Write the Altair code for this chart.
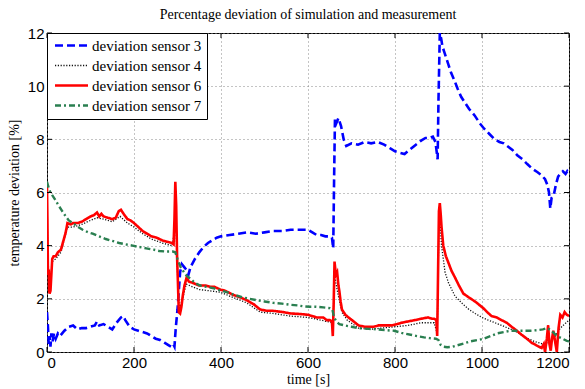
import altair as alt
import pandas as pd

series_names = ["deviation sensor 3", "deviation sensor 4", "deviation sensor 6", "deviation sensor 7"]

t_s3 = [0,2,4,6,8,10,13,16,20,25,30,40,50,60,70,80,90,100,110,115,120,130,140,150,160,170,175,180,190,200,
        210,220,230,240,250,260,270,280,285,290,293,296,300,303,306,310,315,320,325,330,340,350,360,370,380,390,
        400,420,440,460,480,500,520,540,560,580,600,610,620,630,640,650,655,658,660,662,665,670,676,682,688,
        700,715,730,745,760,775,790,800,810,822,833,848,860,870,880,887,893,898,900,903,906,909,913,917,923,929,
        937,944,952,960,970,983,995,1005,1017,1029,1040,1050,1058,1070,1081,1093,1104,1115,1127,1137,1145,1150,
        1154,1157,1160,1165,1170,1175,1180,1186,1192,1196,1200]
v_s3 = [1.5,1.0,0.3,0.6,0.2,0.7,0.4,0.7,0.5,0.7,0.6,0.8,0.95,1.0,0.85,0.9,0.9,0.95,1.0,1.15,1.0,1.05,0.95,0.85,1.1,1.3,1.35,1.2,0.95,0.85,
        0.8,0.75,0.7,0.6,0.5,0.45,0.35,0.25,0.2,0.3,0.2,0.9,1.6,2.3,3.0,3.3,3.2,3.1,2.9,3.2,3.5,3.75,3.95,4.1,4.2,4.3,
        4.35,4.4,4.45,4.5,4.45,4.5,4.55,4.55,4.6,4.6,4.6,4.5,4.4,4.4,4.35,4.35,4.3,3.9,6.5,8.8,8.6,8.8,8.5,8.0,7.75,
        7.85,7.8,7.9,7.85,7.9,7.8,7.65,7.55,7.5,7.45,7.6,7.8,7.95,8.05,8.05,8.1,7.9,7.25,9.5,12.0,11.8,11.5,11.3,11.1,10.8,10.5,
        10.2,9.9,9.6,9.4,9.15,8.9,8.6,8.4,8.2,8.0,7.9,7.85,7.75,7.6,7.4,7.25,7.07,6.9,6.77,6.65,6.5,6.3,
        6.0,5.4,5.8,5.9,6.3,6.6,6.7,6.8,6.7,6.8,6.7]

t_s4 = [0,2,5,8,12,20,32,47,60,80,100,115,130,150,168,185,200,220,240,265,287,293,295,298,301,304,310,320,335,350,
        375,398,428,459,490,520,560,600,643,655,657,661,664,670,678,690,716,740,770,800,830,860,890,897,901,903,907,
        915,923,938,953,970,984,1000,1014,1030,1045,1060,1075,1090,1106,1120,1140,1160,1180,1200]
v_s4 = [6.0,3.0,2.5,2.6,3.4,3.5,3.75,4.7,4.7,4.8,4.95,5.05,5.0,4.9,5.1,4.85,4.7,4.45,4.25,4.1,4.0,4.5,5.8,4.0,2.5,1.6,1.9,2.55,2.45,2.35,
        2.3,2.25,2.05,1.85,1.5,1.45,1.35,1.3,1.15,1.1,0.8,3.0,2.6,2.1,1.5,1.2,0.9,0.85,0.9,0.95,1.0,1.1,1.1,0.7,4.8,5.0,4.0,
        3.0,2.6,2.1,1.85,1.6,1.45,1.3,1.2,1.1,1.0,0.9,0.8,0.65,0.5,0.4,0.3,0.4,0.9,1.2]

t_s6 = [0,1,2,3,4,5,6,8,10,12,15,20,25,32,38,43,47,55,60,70,80,90,100,108,115,120,125,130,140,150,158,165,170,178,185,192,
        200,210,220,230,240,252,265,275,287,291,293,295,297,299,301,303,306,309,312,316,321,326,335,350,365,375,385,398,410,
        428,445,459,475,490,505,520,543,560,581,600,620,635,643,650,655,657,659,661,664,667,670,672,675,678,686,693,701,716,
        730,739,750,762,775,792,805,815,830,846,860,876,885,890,895,897,899,901,903,905,907,911,917,923,930,938,947,957,970,
        984,1003,1012,1022,1034,1045,1057,1068,1080,1091,1103,1114,1125,1137,1142,1145,1149,1152,1155,1158,1161,1164,1168,
        1172,1176,1180,1185,1190,1195,1200]
v_s6 = [6.2,5.0,3.2,2.9,3.1,2.3,2.2,2.3,2.9,3.5,3.6,3.6,3.75,3.85,4.2,4.5,4.85,4.8,4.85,4.85,4.9,5.0,5.1,5.15,5.25,5.1,5.2,5.1,5.05,5.0,5.05,5.3,5.35,5.15,5.0,4.95,
        4.85,4.7,4.55,4.45,4.35,4.3,4.2,4.15,4.1,4.05,5.0,6.4,5.5,3.6,2.6,1.5,1.45,1.7,2.1,2.5,2.8,2.65,2.6,2.5,2.5,2.45,2.45,2.35,2.3,
        2.15,2.05,1.95,1.8,1.6,1.55,1.55,1.5,1.45,1.43,1.4,1.3,1.3,1.2,1.2,1.15,0.6,1.8,3.4,2.9,3.0,2.5,2.3,1.9,1.6,1.4,1.3,1.2,1.0,
        0.95,0.95,0.95,1.0,1.0,1.0,1.05,1.1,1.15,1.2,1.25,1.3,1.25,1.25,1.2,0.6,3.0,5.3,5.6,5.2,4.7,4.0,3.6,3.35,3.05,2.8,2.5,2.2,2.05,
        1.9,1.65,1.5,1.35,1.3,1.2,1.1,0.95,0.8,0.65,0.5,0.35,0.25,0.15,0.3,0.0,0.5,1.0,0.3,0.05,0.5,0.8,0.4,
        0.0,0.9,1.4,1.3,1.5,1.4,1.35]

t_s7 = [0,5,12,20,27,35,43,50,59,70,82,95,105,120,135,150,166,180,197,212,228,245,258,275,289,295,300,307,315,322,330,340,
        352,367,383,398,413,430,451,466,482,500,520,540,558,577,589,605,619,635,650,656,660,665,672,684,700,714,740,760,780,
        798,815,836,850,867,880,894,900,905,912,920,932,943,958,974,990,1004,1020,1035,1050,1066,1080,1096,1112,1127,1140,
        1150,1160,1172,1185,1195,1200]
v_s7 = [6.4,6.1,5.9,5.7,5.5,5.3,5.1,4.95,4.85,4.72,4.6,4.5,4.45,4.35,4.25,4.18,4.1,4.05,4.0,3.95,3.9,3.85,3.8,3.78,3.78,3.75,3.5,3.2,3.0,2.85,2.75,2.6,
        2.5,2.45,2.4,2.32,2.25,2.15,2.05,2.0,1.95,1.9,1.85,1.82,1.78,1.75,1.72,1.7,1.7,1.68,1.65,1.6,1.3,1.15,1.05,1.0,0.95,0.9,0.87,0.85,0.82,
        0.8,0.72,0.65,0.6,0.55,0.52,0.5,0.45,0.27,0.2,0.18,0.2,0.25,0.32,0.4,0.45,0.5,0.6,0.7,0.75,0.8,0.8,0.8,0.8,0.82,0.85,
        0.9,0.8,0.6,0.5,0.42,0.4]

x_ticks = [0, 200, 400, 600, 800, 1000, 1200]
y_ticks = [0, 2, 4, 6, 8, 10, 12]

rows = []
for name, ts, vs in zip(series_names, [t_s3, t_s4, t_s6, t_s7], [v_s3, v_s4, v_s6, v_s7]):
    for i, (t, v) in enumerate(zip(ts, vs)):
        rows.append({"series": name, "t": t, "v": v, "order": i})
df = pd.DataFrame(rows)

W, H = 522, 319
colors = ["#0000ff", "#111111", "#ff0000", "#2a7f50"]
dashes = [[8, 4], [1.2, 1.6], [1, 0], [6, 3, 2, 3]]
widths = [2.6, 1.3, 2.6, 2.4]

xs = alt.Scale(domain=[0, 1200], nice=False)
ys = alt.Scale(domain=[0, 12], nice=False)
leg = alt.Legend(title=None)

lines = alt.Chart(df).mark_line(clip=True).encode(
    x=alt.X("t:Q", scale=xs, axis=alt.Axis(values=x_ticks, title="time [s]", format="d")),
    y=alt.Y("v:Q", scale=ys, axis=alt.Axis(values=y_ticks, title="temperature deviation [%]", format="d")),
    color=alt.Color("series:N", scale=alt.Scale(domain=series_names, range=colors), legend=leg),
    strokeDash=alt.StrokeDash("series:N", scale=alt.Scale(domain=series_names, range=dashes), legend=leg),
    strokeWidth=alt.StrokeWidth("series:N", scale=alt.Scale(type="ordinal", domain=series_names, range=widths), legend=leg),
    detail="series:N",
    order="order:Q",
)

xt = pd.DataFrame({"t": x_ticks})
yt = pd.DataFrame({"v": y_ticks})
tick_len = 5
xb = alt.Chart(xt).mark_rule(color="black", strokeWidth=1).encode(
    x=alt.X("t:Q", scale=xs), y=alt.value(H), y2=alt.value(H - tick_len))
xtop = alt.Chart(xt).mark_rule(color="black", strokeWidth=1).encode(
    x=alt.X("t:Q", scale=xs), y=alt.value(0), y2=alt.value(tick_len))
yl = alt.Chart(yt).mark_rule(color="black", strokeWidth=1).encode(
    y=alt.Y("v:Q", scale=ys), x=alt.value(0), x2=alt.value(tick_len))
yr = alt.Chart(yt).mark_rule(color="black", strokeWidth=1).encode(
    y=alt.Y("v:Q", scale=ys), x=alt.value(W), x2=alt.value(W - tick_len))

chart = alt.layer(lines, xb, xtop, yl, yr).properties(
    width=W, height=H,
    title=alt.TitleParams("Percentage deviation of simulation and measurement",
                          font="Liberation Serif", fontSize=14, fontWeight="normal",
                          color="black", offset=4),
    autosize=alt.AutoSizeParams(type="none"),
    padding={"left": 47, "top": 33, "right": 16, "bottom": 37},
).configure_view(
    stroke="black", strokeWidth=1
).configure_axis(
    labelFont="Liberation Sans", labelFontSize=15, labelColor="black",
    titleFont="Liberation Serif", titleFontSize=14, titleFontWeight="normal", titleColor="black",
    grid=True, gridColor="#888888", gridDash=[1, 3], gridWidth=1,
    domain=False, ticks=False, labelPadding=3,
).configure_axisX(titlePadding=2).configure_axisY(titlePadding=6
).configure_legend(
    orient="none", legendX=0, legendY=0,
    strokeColor="black", fillColor="white", padding=5,
    symbolType="M-3.3,0H3.3", symbolSize=100,
    symbolOffset=12, labelOffset=13,
    labelFont="Liberation Serif", labelFontSize=15,
    labelColor="black", rowPadding=4,
)

chart.save("out.html", embed_options={"renderer": "svg", "actions": False})
